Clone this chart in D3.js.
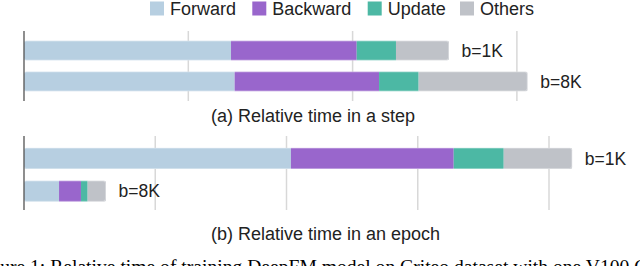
<!DOCTYPE html>
<html><head><meta charset="utf-8">
<script src="https://cdn.jsdelivr.net/npm/d3@7"></script>
<style>html,body{margin:0;padding:0;background:#fff;overflow:hidden}</style>
</head><body>
<svg id="c" width="640" height="266"></svg>
<script>
// ---- data ----
const seriesNames = ["Forward", "Backward", "Update", "Others"];
const seriesColors = ["#b7cfe1", "#9966cc", "#4cb8a4", "#bfc2c8"];
const batchLabels = ["b=1K", "b=8K"];
// (a) relative time in a step (grid unit = 1)
const stepForward  = [1.26, 1.282];
const stepBackward = [0.765, 0.879];
const stepUpdate   = [0.239, 0.241];
const stepOthers   = [0.323, 0.664];
const stepTicks = [1, 2, 3];
// (b) relative time in an epoch
const epochForward  = [2.034, 0.267];
const epochBackward = [1.240, 0.167];
const epochUpdate   = [0.381, 0.051];
const epochOthers   = [0.523, 0.140];
const epochTicks = [1, 2, 3, 4];
const titles = ["(a) Relative time in a step", "(b) Relative time in an epoch"];
const caption = "Figure 1: Relative time of training DeepFM model on Criteo dataset with one V100 GPU.";

const svg = d3.select("#c");
const font = "'Liberation Sans', Arial, Helvetica, sans-serif";

// legend
const legendX = [150, 252.3, 367.7, 460];
const lg = svg.append("g");
seriesNames.forEach((n, i) => {
  lg.append("rect").attr("x", legendX[i]).attr("y", 1.5).attr("width", 14).attr("height", 14).attr("fill", seriesColors[i]);
  lg.append("text").attr("x", legendX[i] + 20).attr("y", 14.5).attr("font-family", font).attr("font-size", 18)
    .attr("fill", "#222").text(n);
});

function panel(id, vals, ticks, xr, yr, gridY, title, titleY) {
  const rows = batchLabels.map((b, i) => ({label: b, segs: vals.map(v => v[i])}));
  const x = d3.scaleLinear().domain([0, 1]).range(xr);
  const y = d3.scaleBand().domain(batchLabels).range(yr).paddingInner(0.35).paddingOuter(0.31);
  const g = svg.append("g");
  // gridlines
  g.selectAll("line.grid").data(ticks).join("line")
    .attr("x1", d => x(d)).attr("x2", d => x(d)).attr("y1", gridY[0]).attr("y2", gridY[1])
    .attr("stroke", "#d8d8d8").attr("stroke-width", 1.5);
  const defs = svg.append("defs");
  rows.forEach((r, ri) => {
    const total = d3.sum(r.segs);
    const cid = id + "clip" + ri;
    defs.append("clipPath").attr("id", cid).append("rect")
      .attr("x", x(0)).attr("y", y(r.label)).attr("width", x(total) - x(0)).attr("height", y.bandwidth()).attr("rx", 2.5);
    const bg = g.append("g").attr("clip-path", `url(#${cid})`);
    let acc = 0;
    r.segs.forEach((v, si) => {
      bg.append("rect").attr("x", x(acc)).attr("y", y(r.label)).attr("width", x(acc + v) - x(acc))
        .attr("height", y.bandwidth()).attr("fill", seriesColors[si]);
      acc += v;
    });
    g.append("rect").attr("x", x(0)).attr("y", y(r.label) + 0.5).attr("width", x(total) - x(0) - 0.5)
      .attr("height", y.bandwidth() - 1).attr("rx", 2.5).attr("fill", "none")
      .attr("stroke", "#fff").attr("stroke-opacity", 0.35).attr("stroke-width", 1);
    g.append("text").attr("x", x(total) + 12.5).attr("y", y(r.label) + y.bandwidth() / 2 + 6.3)
      .attr("font-family", font).attr("font-size", 17.5).attr("fill", "#222").text(r.label);
  });
  // axis line
  g.append("line").attr("x1", x(0)).attr("x2", x(0)).attr("y1", gridY[0]).attr("y2", gridY[1])
    .attr("stroke", "#444").attr("stroke-width", 1.2);
  svg.append("text").attr("x", 211).attr("y", titleY).attr("font-family", font).attr("font-size", 18)
    .attr("fill", "#222").text(title);
}

panel("a", [stepForward, stepBackward, stepUpdate, stepOthers], stepTicks, [24, 188.3], [31, 101], [31, 101], titles[0], 122);
panel("b", [epochForward, epochBackward, epochUpdate, epochOthers], epochTicks, [24, 155.25], [137.5, 212], [136, 210], titles[1], 239.5);

svg.append("text").attr("x", -26).attr("y", 273).attr("font-family", "'Liberation Serif', 'Times New Roman', serif")
  .attr("font-size", 19.6).attr("fill", "#000").text(caption);
</script>
</body></html>
